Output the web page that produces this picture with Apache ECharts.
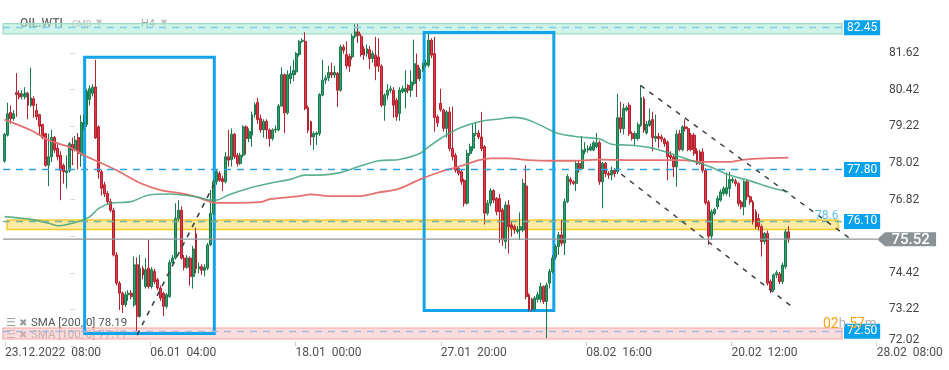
<!DOCTYPE html>
<html><head><meta charset="utf-8">
<script src="https://cdn.jsdelivr.net/npm/echarts@6/dist/echarts.min.js"></script>
<style>html,body{margin:0;padding:0;background:#fff}#c{width:949px;height:370px}</style>
</head><body><div id="c"></div>
<script>
// ---- DATA ----
const xLabels = ['23.12.2022  08:00','06.01  04:00','18.01  00:00','27.01  20:00','08.02  16:00','20.02  12:00','28.02  08:00'];
// candles: [open, close, low, high]
const candles = [
[78.08,78.95,78.02,79.00],[78.93,79.63,78.88,79.99],[79.67,79.47,79.30,79.90],[79.47,79.63,79.40,79.75],
[80.32,80.26,79.53,80.96],[80.29,80.18,80.10,80.40],[80.20,80.28,80.10,80.40],[80.18,80.31,80.10,80.50],
[80.29,79.91,79.45,80.35],[79.91,80.15,79.85,81.14],[80.12,79.90,79.50,80.20],[79.74,79.53,79.42,79.96],
[79.60,79.22,78.92,79.63],[79.28,78.85,78.80,79.30],[78.98,77.94,77.89,79.00],[77.94,78.22,77.26,78.98],
[78.22,78.85,78.05,79.10],[78.85,78.44,78.35,78.90],[78.50,78.22,78.10,78.70],[78.27,77.78,76.80,78.40],
[77.94,77.73,77.34,78.00],[77.70,77.76,77.18,78.27],[77.76,78.65,77.70,78.70],[78.62,78.44,77.94,78.85],
[78.44,78.76,78.40,78.90],[78.85,78.33,77.80,79.00],[78.27,79.34,77.89,79.58],[79.30,79.35,79.10,79.60],
[79.28,80.37,79.20,80.45],[80.10,80.45,79.90,80.55],[80.30,80.50,80.20,80.60],[80.51,78.84,78.80,81.40],
[79.20,77.73,77.50,79.25],[77.73,77.19,76.95,77.80],[77.30,77.00,76.90,77.40],[77.02,76.75,76.65,77.10],
[76.75,76.47,76.40,76.85],[76.47,75.00,74.95,76.55],[75.00,74.08,74.00,75.10],[74.08,73.75,73.20,74.15],
[73.75,73.37,73.10,73.80],[73.37,73.70,73.30,73.80],[73.70,73.75,73.50,73.85],[73.75,73.64,73.55,73.85],
[73.37,74.68,73.30,74.95],[74.68,72.99,72.50,74.92],[72.99,74.57,72.95,75.00],[74.57,74.35,74.20,74.65],
[73.97,74.52,73.90,74.90],[74.57,73.97,73.90,75.50],[73.97,74.52,73.90,74.60],[74.46,74.13,74.05,74.55],
[74.19,73.92,73.85,74.25],[73.92,73.59,73.50,74.00],[73.75,73.32,73.00,73.80],[73.32,73.70,73.25,73.75],
[73.64,74.75,73.60,74.85],[74.75,74.90,74.70,75.00],[74.90,76.20,74.85,76.70],[76.20,76.47,76.10,76.80],
[76.47,74.90,74.85,76.60],[74.90,74.60,74.50,75.00],[74.60,74.90,74.55,75.00],[74.90,74.30,74.00,74.95],
[74.30,75.20,73.90,75.30],[75.70,74.55,74.40,75.90],[74.55,74.62,74.40,74.75],[74.62,74.50,74.35,74.70],
[74.50,74.60,74.30,74.70],[74.57,75.33,74.50,75.40],[75.33,76.37,75.30,77.13],[76.37,77.40,76.30,77.50],
[77.40,77.73,77.30,77.80],[77.67,77.45,77.40,77.75],[77.50,77.40,77.10,77.60],[77.40,78.22,77.35,78.38],
[78.22,78.11,77.90,79.10],[78.13,78.96,77.90,79.15],[78.96,78.22,78.15,79.00],[78.27,78.00,77.90,78.35],
[78.00,78.27,77.95,78.35],[78.27,79.20,78.20,79.25],[79.20,78.82,78.30,79.25],[78.82,79.05,78.70,79.15],
[78.93,79.60,78.55,79.70],[79.60,79.93,79.50,80.00],[80.00,79.44,79.30,80.15],[79.47,79.10,79.00,79.60],
[79.10,79.38,78.85,79.45],[79.38,79.10,78.80,79.45],[79.10,78.82,78.55,79.15],[78.82,79.10,78.75,79.15],
[79.10,79.13,79.00,79.25],[79.10,79.88,79.05,79.95],[79.88,80.91,79.85,81.15],[80.91,79.66,79.00,80.95],
[79.66,80.91,79.60,81.05],[80.78,80.95,80.60,81.20],[80.90,81.05,80.70,81.40],[81.00,81.60,80.90,81.65],
[81.57,82.00,81.50,82.05],[82.00,82.04,81.95,82.10],[82.00,79.80,79.75,82.30],[79.83,79.09,79.00,79.90],
[79.37,78.87,78.60,79.40],[78.87,78.98,78.45,79.05],[78.95,79.00,78.60,79.05],[78.98,80.26,78.90,80.30],
[80.24,80.73,80.20,81.40],[80.73,80.80,80.60,80.90],[80.80,80.98,80.70,81.20],[80.98,80.90,80.80,81.30],
[80.90,80.98,80.80,81.20],[80.95,80.40,79.85,81.00],[80.40,81.82,80.35,81.90],[81.82,81.71,81.60,81.90],
[81.57,81.20,81.10,82.00],[81.51,81.19,81.00,81.60],[81.49,82.17,81.40,82.25],[82.17,82.31,82.10,82.56],
[82.31,82.20,81.95,82.56],[82.17,81.57,81.50,82.25],[81.76,81.55,81.40,81.85],[81.60,81.76,81.50,81.90],
[81.73,81.44,81.10,81.85],[81.44,81.60,81.30,81.70],[81.55,81.19,80.73,82.15],[81.49,81.19,81.00,82.10],
[81.19,79.91,79.85,81.25],[79.91,80.24,79.40,80.30],[80.24,80.40,80.10,80.60],[80.40,80.45,80.30,80.55],
[80.40,79.91,79.50,80.50],[80.07,79.53,79.40,80.15],[79.64,80.40,79.40,80.50],[80.35,80.45,80.30,80.55],
[80.35,80.46,79.80,81.06],[80.56,80.40,80.30,80.60],[80.40,80.67,80.18,81.06],[80.62,81.27,80.55,82.06],
[81.22,80.78,80.18,81.60],[80.78,81.08,80.70,81.15],[81.08,81.22,81.00,81.30],
[81.22,81.30,81.15,81.40],[81.22,82.04,81.15,82.25],[82.04,81.55,81.45,82.10],[81.60,79.51,79.04,82.15],
[79.53,79.33,79.20,79.60],[79.97,79.77,79.70,80.45],[79.75,79.15,79.05,79.80],[79.15,79.69,78.85,79.75],
[79.69,78.49,78.40,79.85],[78.49,78.22,78.10,79.86],[78.27,77.78,77.70,78.35],[77.84,77.68,77.60,77.90],
[77.73,77.40,77.30,77.80],[77.45,76.70,76.59,77.50],[76.70,78.33,76.65,78.45],[78.33,78.55,78.25,78.65],
[78.50,78.98,78.40,79.30],[78.98,79.00,78.90,79.35],[79.00,78.87,78.80,79.10],[78.87,78.49,78.40,79.69],
[78.55,76.37,76.00,78.60],[76.37,76.70,76.30,76.80],[76.70,77.11,76.60,77.19],[77.11,76.80,76.70,77.15],
[76.85,76.42,76.30,76.90],[76.85,76.42,75.40,77.00],[76.48,75.50,75.30,76.55],[75.44,76.64,75.20,76.75],
[76.64,75.93,75.05,76.80],[75.99,75.88,75.60,76.10],[75.93,75.82,75.70,76.00],[75.77,75.84,75.70,75.95],
[75.82,75.93,75.50,76.40],[75.82,77.35,75.75,77.50],[77.26,73.64,73.55,77.95],[73.70,73.23,73.15,73.75],
[73.55,73.23,73.15,73.60],[73.23,73.59,73.15,73.65],[73.55,73.70,73.45,73.80],[73.55,73.97,73.45,74.10],
[73.97,73.48,73.40,74.00],[73.48,74.02,72.28,74.10],[74.08,74.46,73.90,74.55],[74.46,74.90,74.40,75.00],
[74.93,75.28,74.85,75.35],[75.28,75.66,75.00,75.75],[75.66,75.39,75.30,76.15],[75.39,76.75,75.00,76.85],
[76.75,77.57,76.70,77.65],[77.48,77.40,77.30,77.55],[77.40,77.35,77.30,77.45],[77.35,78.00,77.10,78.10],
[78.00,77.84,77.70,78.10],[77.84,78.44,77.80,78.90],[78.38,78.49,78.30,78.70],[78.44,78.49,78.35,78.60],
[78.44,78.55,78.40,78.65],[78.44,78.68,78.40,78.75],[78.55,78.68,78.50,79.00],
[78.68,77.40,77.30,78.75],[77.40,78.00,76.53,78.05],[78.00,77.67,77.55,78.05],[77.67,77.62,77.50,77.75],
[77.62,77.78,77.45,77.90],[77.78,77.67,77.55,77.85],[77.73,79.50,77.65,80.29],[79.50,79.14,79.00,80.02],
[79.14,79.80,78.95,79.96],[79.75,79.83,79.70,79.90],[79.91,78.98,78.90,80.00],[78.98,78.82,78.75,79.05],
[78.82,78.98,78.60,79.05],[78.82,79.27,78.75,79.35],[79.25,80.16,79.20,80.56],[80.12,79.09,79.00,80.20],
[79.00,79.29,78.95,79.40],[79.25,79.40,79.20,79.80],[79.44,78.85,78.40,79.70],[78.82,78.89,78.70,79.60],
[78.89,78.82,78.50,79.00],[78.87,78.80,78.70,78.95],[78.80,78.65,78.55,78.85],[78.70,78.22,77.45,78.75],
[78.27,78.20,78.10,78.40],[78.22,77.89,77.56,78.30],[77.89,78.96,77.24,79.10],[78.98,78.46,78.40,79.10],
[78.46,79.20,78.40,79.25],[79.20,79.14,79.05,79.45],[79.14,78.46,78.40,79.20],[78.93,78.46,78.40,79.00],
[78.93,78.33,78.25,79.00],[78.41,78.00,77.95,78.50],[78.38,78.05,77.95,78.45],[78.38,77.78,77.70,78.50],
[77.78,76.71,76.65,77.85],[76.74,75.62,75.33,76.80],[75.62,76.42,75.50,76.50],[76.36,76.49,76.30,76.55],
[76.58,76.85,76.50,76.95],[76.80,77.07,76.75,77.15],[77.02,77.18,76.95,77.25],[77.02,77.21,76.95,77.70],
[77.18,77.48,76.90,77.73],[77.43,77.48,77.35,77.55],[77.43,77.34,77.25,77.50],[77.34,76.69,76.60,77.40],
[76.74,76.58,76.50,76.80],[76.58,77.40,76.30,77.45],[77.40,76.91,76.80,77.45],[76.91,76.74,76.65,76.95],
[76.74,76.09,76.00,76.80],[76.42,75.93,75.85,76.50],[76.20,75.93,75.80,76.35],[75.93,75.44,74.95,76.00],
[75.44,75.71,75.35,75.75],[75.71,74.08,74.00,75.80],[74.13,73.86,73.75,74.20],[73.86,74.35,73.80,74.40],
[74.35,74.42,74.25,74.50],[74.38,74.13,74.05,74.45],[74.13,74.67,74.05,74.75],[74.62,75.76,74.55,75.85],
[75.76,75.52,75.40,75.95]
];
// moving averages: [candle index, value]
const sma200 = [[0,79.44],[9,79.09],[15,78.76],[22,78.54],[27,78.27],[32,78.05],[39,77.73],[46,77.36],[53,77.13],[60,77.02],[65,76.91],[70,76.74],[72,76.71],[78,76.71],[87,76.74],[90,76.83],[100,76.93],[104,76.99],[110,76.93],[120,76.93],[127,77.05],[134,77.18],[141,77.48],[148,77.73],[154,77.89],[161,78.11],[165,78.17],[171,78.17],[178,78.11],[185,78.09],[192,78.09],[198,78.11],[202,78.13],[215,78.11],[229,78.11],[239,78.05],[246,78.05],[251,78.13],[258,78.17],[266,78.19]];
const sma100 = [[0,76.26],[9,76.17],[15,76.04],[18,75.96],[22,76.02],[26,76.12],[29,76.26],[32,76.53],[36,76.70],[43,76.75],[49,76.97],[56,77.00],[65,76.91],[70,76.80],[72,76.80],[76,76.97],[83,77.19],[90,77.35],[97,77.48],[102,77.62],[107,77.62],[114,77.70],[120,77.89],[127,78.09],[134,78.13],[141,78.33],[144,78.55],[148,78.82],[154,79.15],[161,79.37],[168,79.46],[173,79.51],[178,79.42],[183,79.20],[188,78.98],[195,78.87],[202,78.80],[206,78.63],[212,78.60],[219,78.52],[226,78.33],[232,78.13],[239,77.91],[246,77.62],[253,77.43],[259,77.24],[266,77.07]];
const levelValues = [82.45, 77.80, 76.10, 72.50];
const levelLabels = ['82.45', '77.80', '76.10', '72.50'];
const lastPrice = 75.52;
const lastLabel = '75.52';
const bands = [[82.58, 82.25], [76.15, 75.84], [72.61, 72.25]];
const boxes = [[[27.2, 81.48], [71.2, 72.43]], [[142.4, 82.29], [186.4, 73.18]]];
const trendLeft = [[45, 72.38], [71, 77.30]];
const channelUpper = [[215.8, 80.56], [287.6, 75.49]];
const channelLower = [[209.3, 77.65], [267.3, 73.30]];
const fibLabel = '78.6';
const smaLegend = ['SMA [200, 0] 78.19', 'SMA [100, 0] 77.11'];

// ---- CHART ----
const N = 321;
const cats = Array.from({length: N}, (_, i) => String(i));
const F = 'Roboto, sans-serif';
const chart = echarts.init(document.getElementById('c'), null, {renderer: 'canvas'});
const levelColors = ['#7fcde8', '#2fa2e6', '#6fb3a3', '#a3badb'];
const bandSpans = [[-0.5, 284.2], [0.85, 282.9], [-0.5, 284.2]];
const bandStyles = [
  {color: 'rgba(168,234,210,0.55)', borderColor: '#9fdcc7', borderWidth: 1.2},
  {color: 'rgba(251,219,90,0.55)', borderColor: '#f5ca2e', borderWidth: 1.5},
  {color: 'rgba(246,178,178,0.45)', borderColor: '#f3a6a6', borderWidth: 1.2}
];
const option = {
  animation: false,
  backgroundColor: '#fff',
  grid: [
    {left: 3, right: 0, top: 17, bottom: 24, outerBoundsMode: 'none', containLabel: false},
    {left: 5, right: 72.3, top: 17, bottom: 24, outerBoundsMode: 'none', containLabel: false}
  ],
  xAxis: [
    {type: 'category', gridIndex: 0, data: cats, boundaryGap: true, show: false},
    {type: 'value', gridIndex: 0, min: -0.5, max: N - 0.5, show: false},
    {type: 'value', gridIndex: 1, min: 0, max: 6, interval: 1,
     axisLine: {show: false}, splitLine: {show: false},
     axisTick: {show: true, inside: true, length: 4, lineStyle: {color: '#d0d0d0'}},
     axisLabel: {align: 'left', margin: 1, color: '#4f4f4f', fontSize: 12, fontFamily: F,
       showMinLabel: true, showMaxLabel: true, formatter: v => xLabels[Math.round(v)] || ''}}
  ],
  yAxis: [
    {type: 'value', gridIndex: 0, position: 'right', offset: -67, min: 72.02, max: 82.80, interval: 1.2,
     axisLine: {show: false}, splitLine: {show: false},
     axisTick: {show: true, length: 5, lineStyle: {color: '#dadada'}},
     axisLabel: {margin: 7, color: '#454545', fontSize: 12, fontFamily: F, showMaxLabel: false,
       formatter: v => Math.abs(v - 72.02) < 1e-6 ? '{lo|72.02}' :
         ((v > 82.5 || Math.abs(v - 75.62) < 1e-6) ? '' : v.toFixed(2)),
       rich: {lo: {padding: [0, 0, 12, 0], color: '#454545', fontSize: 12, fontFamily: F}}}},
    {type: 'value', gridIndex: 1, show: false, min: 0, max: 1}
  ],
  graphic: [
    {type: 'text', x: 20, y: 24, z: 0, style: {text: 'OIL.WTI', fill: '#6a6a6a', font: '500 12px Roboto', textVerticalAlign: 'middle'}},
    {type: 'text', x: 72, y: 25, z: 0, style: {text: 'CMD', fill: '#b5b5b5', font: '9px Roboto', textVerticalAlign: 'middle'}},
    {type: 'text', x: 96, y: 23, z: 0, style: {text: '▼', fill: '#c4c4c4', font: '8px "DejaVu Sans"', textVerticalAlign: 'middle'}},
    {type: 'text', x: 141, y: 24, z: 0, style: {text: 'H4', fill: '#a8a8a8', font: '11px Roboto', textVerticalAlign: 'middle'}},
    {type: 'text', x: 161, y: 23, z: 0, style: {text: '▼', fill: '#c4c4c4', font: '8px "DejaVu Sans"', textVerticalAlign: 'middle'}},
    {type: 'text', x: 6, y: 323, z: 0, style: {text: '☰', fill: '#9a9a9a', font: '11px "DejaVu Sans"', textVerticalAlign: 'middle'}},
    {type: 'text', x: 19, y: 323, z: 0, style: {text: '✖', fill: '#9a9a9a', font: '10px "DejaVu Sans"', textVerticalAlign: 'middle'}},
    {type: 'text', x: 31, y: 323, z: 0, style: {text: smaLegend[0], fill: '#555', font: '11.5px Roboto', textVerticalAlign: 'middle'}},
    {type: 'text', x: 6, y: 335, z: 0, style: {text: '☰', fill: '#b0b0b0', font: '11px "DejaVu Sans"', textVerticalAlign: 'middle'}},
    {type: 'text', x: 19, y: 335, z: 0, style: {text: '✖', fill: '#b0b0b0', font: '10px "DejaVu Sans"', textVerticalAlign: 'middle'}},
    {type: 'text', x: 31, y: 335, z: 0, style: {text: smaLegend[1], fill: '#a8a8a8', font: '11.5px Roboto', textVerticalAlign: 'middle'}},
    {type: 'text', x: 815, y: 216, z: 10, style: {text: fibLabel, fill: '#5cc0ec', font: '12px Roboto', textVerticalAlign: 'middle'}},
    {type: 'text', x: 823, y: 324, z: 10, style: {text: '{o|02}{g|h} {o|57}{g|m}', textVerticalAlign: 'middle',
      rich: {o: {fill: '#f5a31a', fontSize: 14, fontFamily: 'Roboto'}, g: {fill: '#b0b0b0', fontSize: 13, fontFamily: 'Roboto'}}}}
  ],
  series: [
    {type: 'candlestick', xAxisIndex: 0, yAxisIndex: 0, data: candles, barWidth: 2.4, z: 2,
     itemStyle: {color: '#2f9f6c', color0: '#e23a48', borderColor: '#1b7a4d', borderColor0: '#b3222f', borderWidth: 1}},
    {type: 'line', xAxisIndex: 1, yAxisIndex: 0, data: sma200, symbol: 'none', smooth: 0.3, z: 3,
     lineStyle: {color: '#e4706f', width: 1.8}},
    {type: 'line', xAxisIndex: 1, yAxisIndex: 0, data: sma100, symbol: 'none', smooth: 0.3, z: 3,
     lineStyle: {color: '#3fa37b', width: 1.6, opacity: 0.85}},
    // last price line + level lines + price tag
    {type: 'line', xAxisIndex: 1, yAxisIndex: 0, data: [[-0.5, lastPrice], [296.1, lastPrice]], symbol: 'none', z: 4,
     lineStyle: {color: '#8c9599', width: 1.3},
     markLine: {symbol: ['none', 'none'], silent: true, precision: 2,
       data: levelValues.map((v, i) => [
         {coord: [-0.5, v], name: levelLabels[i], lineStyle: {color: levelColors[i], width: 1.3, type: [7, 6]}},
         {coord: [284.2, v]}]),
       label: {show: true, position: 'end', distance: 2, formatter: '{b}',
         color: '#fff', backgroundColor: '#0aa2ea', padding: [2, 3, 1, 3], fontSize: 12, fontFamily: F}},
     markPoint: {symbol: 'path://M0,7L8,0L59,0L59,14L8,14Z', symbolSize: [59, 14], silent: true,
       data: [{coord: [306.1, lastPrice], name: lastLabel}],
       itemStyle: {color: '#8a9296'},
       label: {show: true, position: 'inside', offset: [4, 1], formatter: '{b}',
         color: '#fff', fontSize: 15, fontWeight: 500, fontFamily: F}}},
    // bands + left trend line
    {type: 'line', xAxisIndex: 1, yAxisIndex: 0, data: trendLeft, symbol: 'none', z: 6,
     lineStyle: {color: '#3c4347', width: 1.6, type: [5, 6]},
     markArea: {silent: true, data: bands.map((b, i) => [
       {coord: [bandSpans[i][0], b[0]], itemStyle: bandStyles[i]},
       {coord: [bandSpans[i][1], b[1]]}])}},
    {type: 'line', xAxisIndex: 1, yAxisIndex: 0, data: channelUpper, symbol: 'none', z: 6,
     lineStyle: {color: '#3c4347', width: 1.5, type: [5, 6]}},
    {type: 'line', xAxisIndex: 1, yAxisIndex: 0, data: channelLower, symbol: 'none', z: 7,
     lineStyle: {color: '#3c4347', width: 1.5, type: [5, 6]},
     markArea: {silent: true, itemStyle: {color: 'rgba(0,0,0,0)', borderColor: '#13a3ea', borderWidth: 3},
       data: boxes.map(b => [{coord: b[0]}, {coord: b[1]}])}}
  ]
};
chart.setOption(option);
</script></body></html>
